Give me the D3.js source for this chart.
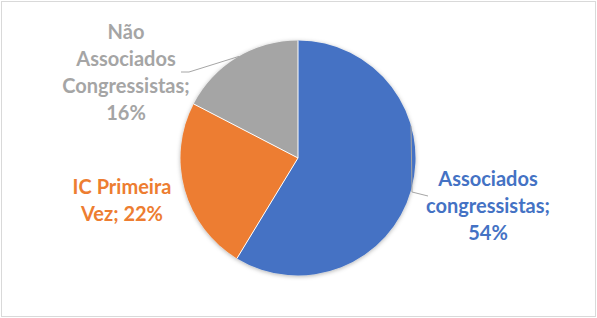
<!DOCTYPE html>
<html>
<head>
<meta charset="utf-8">
<script src="https://cdn.jsdelivr.net/npm/d3@7"></script>
<style>
  body { margin: 0; background: #fff; }
  text { font-family: Lato, "Open Sans", sans-serif; font-weight: bold; }
</style>
</head>
<body>
<svg id="chart" width="597" height="318"></svg>
<script>
var categories = ["Associados congressistas", "IC Primeira Vez", "Não Associados Congressistas"];
var values = [54, 22, 16];
var colors = ["#4472C4", "#ED7D31", "#A5A5A5"];
// label text broken into lines the way the picture shows them
var labelLines = [
  ["Associados", "congressistas;", "54%"],
  ["IC Primeira", "Vez; 22%"],
  ["Não", "Associados", "Congressistas;", "16%"]
];

var width = 597, height = 318,
    cx = 298, cy = 158, radius = 117.5;

var svg = d3.select('#chart');

svg.append('rect')
  .attr('x', 1.5).attr('y', 1.5)
  .attr('width', width - 3).attr('height', height - 3)
  .attr('fill', '#fff').attr('stroke', '#d9d9d9').attr('stroke-width', 1);

var defs = svg.append('defs');
var f = defs.append('filter').attr('id', 'shadow')
  .attr('x', '-20%').attr('y', '-20%').attr('width', '140%').attr('height', '140%');
f.append('feDropShadow').attr('dx', 0).attr('dy', 1).attr('stdDeviation', 2)
  .attr('flood-color', '#000').attr('flood-opacity', 0.3);

var pie = d3.pie().sort(null).value(function(d) { return d; });
var arc = d3.arc().innerRadius(0).outerRadius(radius);
var arcs = pie(values);

var g = svg.append('g').attr('transform', 'translate(' + cx + ',' + cy + ')');

g.append('g').attr('filter', 'url(#shadow)')
  .selectAll('path')
  .data(arcs)
  .enter().append('path')
    .attr('d', arc)
    .attr('fill', function(d, i) { return colors[i]; });

// white separators between slices
g.selectAll('line.sep')
  .data(arcs)
  .enter().append('line')
    .attr('class', 'sep')
    .attr('x1', 0).attr('y1', 0)
    .attr('x2', function(d) { return radius * Math.sin(d.startAngle); })
    .attr('y2', function(d) { return -radius * Math.cos(d.startAngle); })
    .attr('stroke', '#fff').attr('stroke-width', 1);

// label anchor (center x, first baseline) relative to chart
var labelPos = [[488, 186], [122, 194], [126, 39]];
var lineH = 27;

arcs.forEach(function(d, i) {
  var t = svg.append('text')
    .attr('text-anchor', 'middle')
    .attr('fill', colors[i])
    .attr('font-size', 20);
  labelLines[i].forEach(function(s, k) {
    t.append('tspan').attr('x', labelPos[i][0]).attr('y', labelPos[i][1] + k * lineH).text(s);
  });
});

// leader lines
function edge(a) { return [cx + radius * Math.sin(a), cy - radius * Math.cos(a)]; }
var blueMid = edge((arcs[0].startAngle + arcs[0].endAngle) / 2 - 0.55);
svg.append('polyline')
  .attr('points', [blueMid, [412, 192], [428, 196]].map(function(p) { return p.join(','); }).join(' '))
  .attr('fill', 'none').attr('stroke', '#a6a6a6').attr('stroke-width', 1);

var grayMid = edge((arcs[2].startAngle + arcs[2].endAngle) / 2 + 0.02);
svg.append('polyline')
  .attr('points', [[181, 72], [189, 72], grayMid].map(function(p) { return p.join(','); }).join(' '))
  .attr('fill', 'none').attr('stroke', '#a6a6a6').attr('stroke-width', 1);
</script>
</body>
</html>
